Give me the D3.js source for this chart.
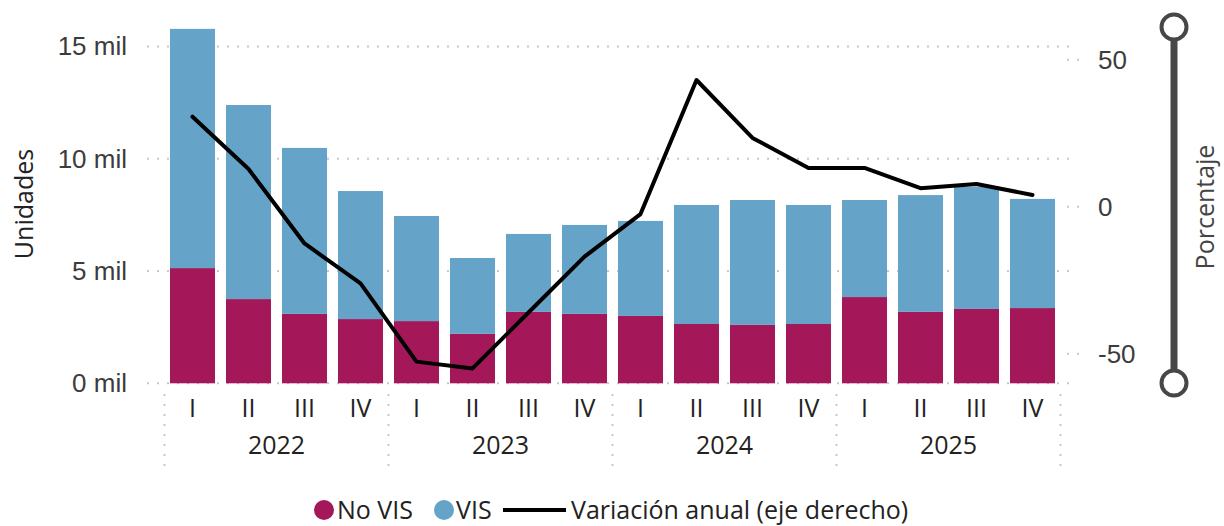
<!DOCTYPE html>
<html>
<head>
<meta charset="utf-8">
<script src="https://cdn.jsdelivr.net/npm/d3@7"></script>
<style>
  body { margin: 0; background: #fff; }
  svg { font-family: "Segoe UI", "Open Sans", sans-serif; }
</style>
</head>
<body>
<div id="chart"></div>
<script>
// data
var years = ["2022", "2023", "2024", "2025"];
var quarters = ["I", "II", "III", "IV"];
var noVis = [5130, 3750, 3090, 2860, 2770, 2200, 3180, 3090, 3000, 2640, 2600, 2640, 3840, 3180, 3310, 3350];
var vis = [10650, 8640, 7390, 5700, 4680, 3380, 3470, 3960, 4230, 5300, 5560, 5300, 4320, 5200, 5440, 4860];
var variacion = [30.6, 12.8, -12.5, -26.1, -52.7, -55.0, -36.0, -17.0, -2.5, 43.1, 23.4, 13.2, 13.2, 6.3, 7.7, 4.0];
var leftTicks = [0, 5000, 10000, 15000];
var rightTicks = [-50, 0, 50];

var width = 1224, height = 526;
var colNoVis = "#a4185a", colVis = "#65a3c8";
var fs = 25;

var keys = [];
years.forEach(function(y) { quarters.forEach(function(q) { keys.push(y + "-" + q); }); });

var data = keys.map(function(k, i) {
  return { key: k, noVis: noVis[i], vis: vis[i], varia: variacion[i] };
});

var svg = d3.select("#chart")
  .append("svg")
    .attr("width", width)
    .attr("height", height);

var x = d3.scaleBand()
  .domain(keys)
  .range([164.5, 1060.5])
  .paddingInner(0.196)
  .paddingOuter(0.098);

var yL = d3.scaleLinear().domain([0, 15000]).range([383.3, 46.4]);
var yR = d3.scaleLinear().domain([-50, 50]).range([353.7, 59.7]);

// gridlines (left axis)
svg.append("g")
  .selectAll("line")
  .data(leftTicks)
  .enter()
  .append("line")
    .attr("x1", 147).attr("x2", 1069)
    .attr("y1", function(d) { return yL(d); })
    .attr("y2", function(d) { return yL(d); })
    .attr("stroke", "#c8c8c8")
    .attr("stroke-width", 2)
    .attr("stroke-dasharray", "2,8");

// short stubs for the right axis
svg.append("g")
  .selectAll("line")
  .data(rightTicks)
  .enter()
  .append("line")
    .attr("x1", 1067).attr("x2", 1080)
    .attr("y1", function(d) { return yR(d); })
    .attr("y2", function(d) { return yR(d); })
    .attr("stroke", "#c8c8c8")
    .attr("stroke-width", 2)
    .attr("stroke-dasharray", "2,8");

// stacked bars
var stack = d3.stack().keys(["noVis", "vis"]);
var series = stack(data);
var colors = { noVis: colNoVis, vis: colVis };

svg.append("g")
  .selectAll("g")
  .data(series)
  .enter()
  .append("g")
    .attr("fill", function(s) { return colors[s.key]; })
  .selectAll("rect")
  .data(function(s) { return s; })
  .enter()
  .append("rect")
    .attr("x", function(d) { return x(d.data.key); })
    .attr("width", x.bandwidth())
    .attr("y", function(d) { return yL(d[1]); })
    .attr("height", function(d) { return yL(d[0]) - yL(d[1]); });

// annual variation line
var line = d3.line()
  .x(function(d) { return x(d.key) + x.bandwidth() / 2; })
  .y(function(d) { return yR(d.varia); });

svg.append("path")
  .datum(data)
  .attr("d", line)
  .attr("fill", "none")
  .attr("stroke", "#000")
  .attr("stroke-width", 4)
  .attr("stroke-linejoin", "round")
  .attr("stroke-linecap", "round");

// left axis
var axL = svg.append("g")
  .attr("transform", "translate(135,0)")
  .call(d3.axisLeft(yL).tickValues(leftTicks).tickSize(0).tickPadding(8)
    .tickFormat(function(d) { return (d / 1000) + " mil"; }));
axL.select(".domain").remove();
axL.selectAll("text").attr("font-size", 26).attr("fill", "#3c3c3c").attr("font-family", null);

// right axis (plain hyphen for negatives, like the original)
var axR = svg.append("g")
  .attr("transform", "translate(1090,0)")
  .call(d3.axisRight(yR).tickValues(rightTicks).tickSize(0).tickPadding(8)
    .tickFormat(function(d) { return String(d); }));
axR.select(".domain").remove();
axR.selectAll("text").attr("font-size", 26).attr("fill", "#3c3c3c").attr("font-family", null);

// x axis: quarters then years
svg.append("g")
  .selectAll("text")
  .data(data)
  .enter()
  .append("text")
    .attr("x", function(d) { return x(d.key) + x.bandwidth() / 2; })
    .attr("y", 417)
    .attr("text-anchor", "middle")
    .attr("font-size", fs)
    .attr("fill", "#222")
    .text(function(d) { return d.key.split("-")[1]; });

svg.append("g")
  .selectAll("text")
  .data(years)
  .enter()
  .append("text")
    .attr("x", function(d) { return (x(d + "-I") + x(d + "-IV") + x.bandwidth()) / 2; })
    .attr("y", 454)
    .attr("text-anchor", "middle")
    .attr("font-size", fs)
    .attr("fill", "#222")
    .text(function(d) { return d; });

// year separators
var seps = years.map(function(d) { return x(d + "-I") - x.step() * x.paddingInner() / 2; });
seps.push(x(years[years.length - 1] + "-IV") + x.bandwidth() + x.step() * x.paddingInner() / 2);
svg.append("g")
  .selectAll("line")
  .data(seps)
  .enter()
  .append("line")
    .attr("x1", function(d) { return d; })
    .attr("x2", function(d) { return d; })
    .attr("y1", 394).attr("y2", 468)
    .attr("stroke", "#c8c8c8")
    .attr("stroke-width", 2)
    .attr("stroke-dasharray", "2,8");

// axis titles
svg.append("text")
  .attr("transform", "translate(33,204) rotate(-90)")
  .attr("text-anchor", "middle")
  .attr("font-size", fs)
  .attr("fill", "#222")
  .text("Unidades");

svg.append("text")
  .attr("transform", "translate(1214,207) rotate(-90)")
  .attr("text-anchor", "middle")
  .attr("font-size", fs)
  .attr("fill", "#444")
  .text("Porcentaje");

// range slider on the right
svg.append("line")
  .attr("x1", 1174).attr("x2", 1174)
  .attr("y1", 27).attr("y2", 383)
  .attr("stroke", "#474747")
  .attr("stroke-width", 7);
svg.selectAll("circle.knob")
  .data([27, 383])
  .enter()
  .append("circle")
    .attr("class", "knob")
    .attr("cx", 1174)
    .attr("cy", function(d) { return d; })
    .attr("r", 12.5)
    .attr("fill", "#fff")
    .attr("stroke", "#474747")
    .attr("stroke-width", 4);

// legend
var legY = 510;
var leg = svg.append("g");
leg.append("circle").attr("cx", 324).attr("cy", legY).attr("r", 10).attr("fill", colNoVis);
leg.append("text").attr("x", 337).attr("y", legY).attr("dy", "0.35em")
  .attr("font-size", fs).attr("fill", "#222").text("No VIS");
leg.append("circle").attr("cx", 444).attr("cy", legY).attr("r", 10).attr("fill", colVis);
leg.append("text").attr("x", 456).attr("y", legY).attr("dy", "0.35em")
  .attr("font-size", fs).attr("fill", "#222").text("VIS");
leg.append("line").attr("x1", 503).attr("x2", 566).attr("y1", legY).attr("y2", legY)
  .attr("stroke", "#000").attr("stroke-width", 4);
leg.append("text").attr("x", 571).attr("y", legY).attr("dy", "0.35em")
  .attr("font-size", fs).attr("fill", "#222").text("Variación anual (eje derecho)");
</script>
</body>
</html>
